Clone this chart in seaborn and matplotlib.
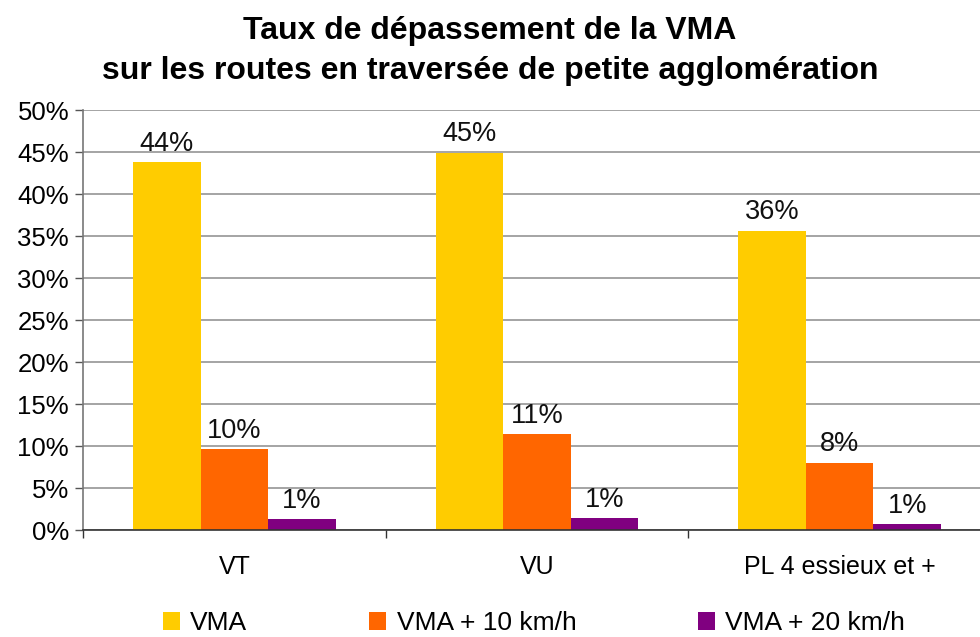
import pandas as pd
import matplotlib.pyplot as plt
import seaborn as sns
from matplotlib.patches import Patch

# Data
categories = ["VT", "VU", "PL 4 essieux et +"]
series = ["VMA", "VMA + 10 km/h", "VMA + 20 km/h"]
vma = [43.8, 44.9, 35.6]
vma10 = [9.6, 11.4, 8.0]
vma20 = [1.3, 1.4, 0.7]
colors = ["#FFCC00", "#FF6600", "#800080"]
yticks = list(range(0, 51, 5))

df = pd.DataFrame({
    "categorie": categories * 3,
    "serie": [series[0]] * 3 + [series[1]] * 3 + [series[2]] * 3,
    "taux": vma + vma10 + vma20,
})

sns.set_theme(style="white")
plt.rcParams["font.family"] = ["Liberation Sans", "DejaVu Sans"]
plt.rcParams["text.color"] = "black"
plt.rcParams["xtick.labelcolor"] = "black"
plt.rcParams["ytick.labelcolor"] = "black"

fig = plt.figure(figsize=(9.8, 6.37), dpi=100)
ax = fig.add_axes([83 / 980, 107 / 637, 908 / 980, 420 / 637])

sns.barplot(data=df, x="categorie", y="taux", hue="serie", palette=colors,
            width=0.67, order=categories, hue_order=series, ax=ax,
            legend=False, saturation=1, linewidth=0, errorbar=None)

for cont in ax.containers:
    ax.bar_label(cont, labels=[f"{round(v.get_height()):.0f}%" for v in cont],
                 padding=4, fontsize=19.5, color="#111111")

ax.set_ylim(0, 50)
ax.set_xlim(-0.5, 2.5)
ax.set_yticks(yticks)
ax.set_yticklabels([f"{t}%" for t in yticks], fontsize=18.5)
ax.yaxis.grid(True, color="#8c8c8c", linewidth=1.1)
ax.set_axisbelow(True)
ax.set_xticks(range(len(categories)))
ax.set_xticklabels(categories, fontsize=18)
ax.set_xticks([-0.5, 0.5, 1.5, 2.5], minor=True)
ax.tick_params(axis="x", which="major", length=0, pad=18)
ax.tick_params(axis="x", which="minor", length=6, width=1, color="#333333", direction="out", bottom=True)
ax.tick_params(axis="y", length=6, width=1, color="#555555", direction="out", left=True, pad=4)
ax.set_xlabel("")
ax.set_ylabel("")
for s in ["top", "right"]:
    ax.spines[s].set_visible(False)
ax.spines["left"].set_color("#777777")
ax.spines["bottom"].set_color("#333333")
ax.spines["left"].set_linewidth(1.2)
ax.spines["bottom"].set_linewidth(1.2)

fig.suptitle("Taux de dépassement de la VMA\nsur les routes en traversée de petite agglomération",
             fontsize=23, fontweight="bold", color="black", y=1 - 51 / 637, x=0.5,
             va="center", linespacing=1.4)

handles = [Patch(facecolor=c, edgecolor="none") for c in colors]
fig.legend(handles, series, loc="center", bbox_to_anchor=(534 / 980, 1 - 623 / 637),
           ncol=3, frameon=False, fontsize=19, handlelength=0.65, handleheight=0.65,
           handletextpad=0.4, columnspacing=4.6)

plt.savefig("out.png", dpi=100)
